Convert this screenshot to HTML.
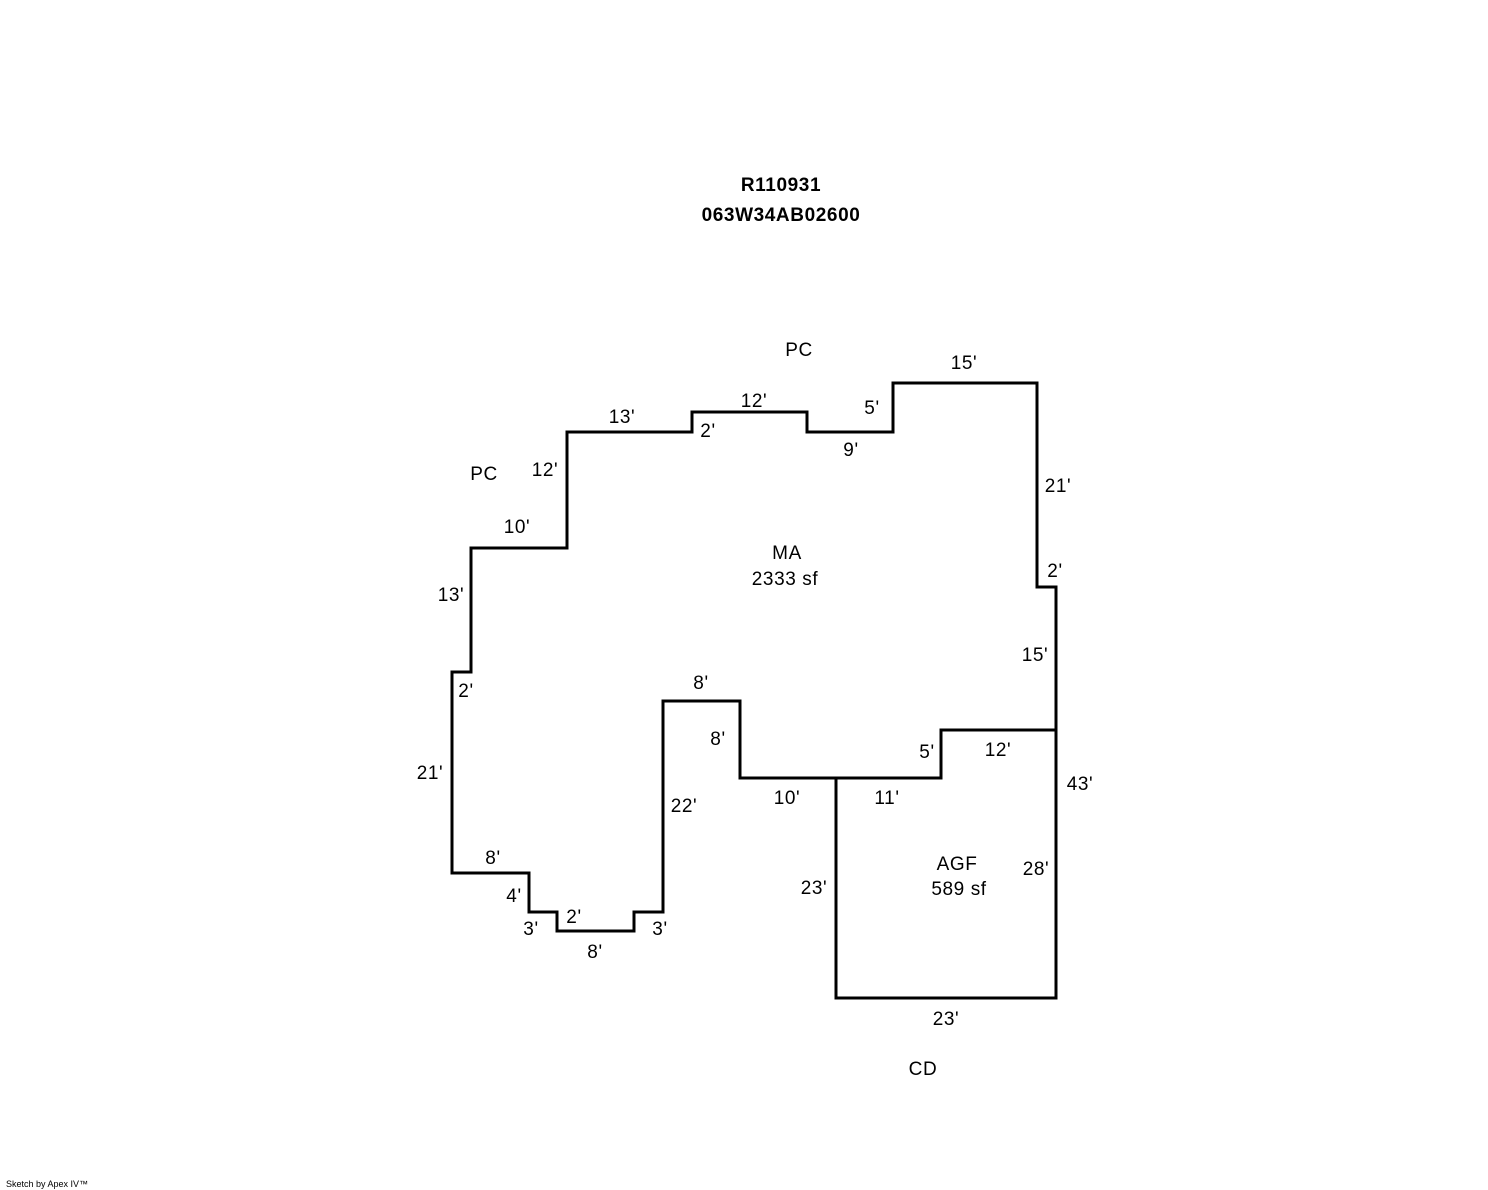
<!DOCTYPE html>
<html><head><style>
html,body{margin:0;padding:0;background:#fff;}
svg{display:block;}
text{font-family:"Liberation Sans",Arial,sans-serif;font-size:19px;letter-spacing:0.6px;fill:#000;}
</style></head><body>
<svg width="1488" height="1190" viewBox="0 0 1488 1190" xmlns="http://www.w3.org/2000/svg">
<g fill="none" stroke="#000" stroke-width="3" stroke-linejoin="miter" stroke-linecap="square">
<polyline points="471,548 567,548 567,432 692,432 692,412 807,412 807,432 893,432 893,383 1037,383 1037,587 1056,587 1056,730 941,730 941,778 836,778 740,778 740,701 663,701 663,912 634,912 634,931 557,931 557,912 529,912 529,873 452,873 452,672 471,672 471,548"/>
<polyline points="1056,730 1056,998 836,998 836,778"/>
</g>
<g text-anchor="middle">
<text x="781" y="191" font-weight="bold">R110931</text>
<text x="781" y="221" font-weight="bold">063W34AB02600</text>
<text x="799" y="356">PC</text>
<text x="484" y="480">PC</text>
<text x="964" y="369">15'</text>
<text x="754" y="407">12'</text>
<text x="622" y="423">13'</text>
<text x="708" y="437">2'</text>
<text x="872" y="414">5'</text>
<text x="851" y="456">9'</text>
<text x="1058" y="492">21'</text>
<text x="545" y="476">12'</text>
<text x="517" y="533">10'</text>
<text x="787" y="559">MA</text>
<text x="785" y="585">2333 sf</text>
<text x="1055" y="577">2'</text>
<text x="451" y="601">13'</text>
<text x="1035" y="661">15'</text>
<text x="466" y="697">2'</text>
<text x="701" y="689">8'</text>
<text x="718" y="745">8'</text>
<text x="927" y="758">5'</text>
<text x="998" y="756">12'</text>
<text x="1080" y="790">43'</text>
<text x="430" y="779">21'</text>
<text x="787" y="804">10'</text>
<text x="887" y="804">11'</text>
<text x="684" y="812">22'</text>
<text x="957" y="870">AGF</text>
<text x="959" y="895">589 sf</text>
<text x="1036" y="875">28'</text>
<text x="493" y="864">8'</text>
<text x="814" y="894">23'</text>
<text x="514" y="902">4'</text>
<text x="574" y="923">2'</text>
<text x="531" y="935">3'</text>
<text x="660" y="935">3'</text>
<text x="595" y="958">8'</text>
<text x="946" y="1025">23'</text>
<text x="923" y="1075">CD</text>
</g>
<text x="6" y="1187" style="font-size:9px;letter-spacing:0">Sketch by Apex IV™</text>
</svg>
</body></html>
